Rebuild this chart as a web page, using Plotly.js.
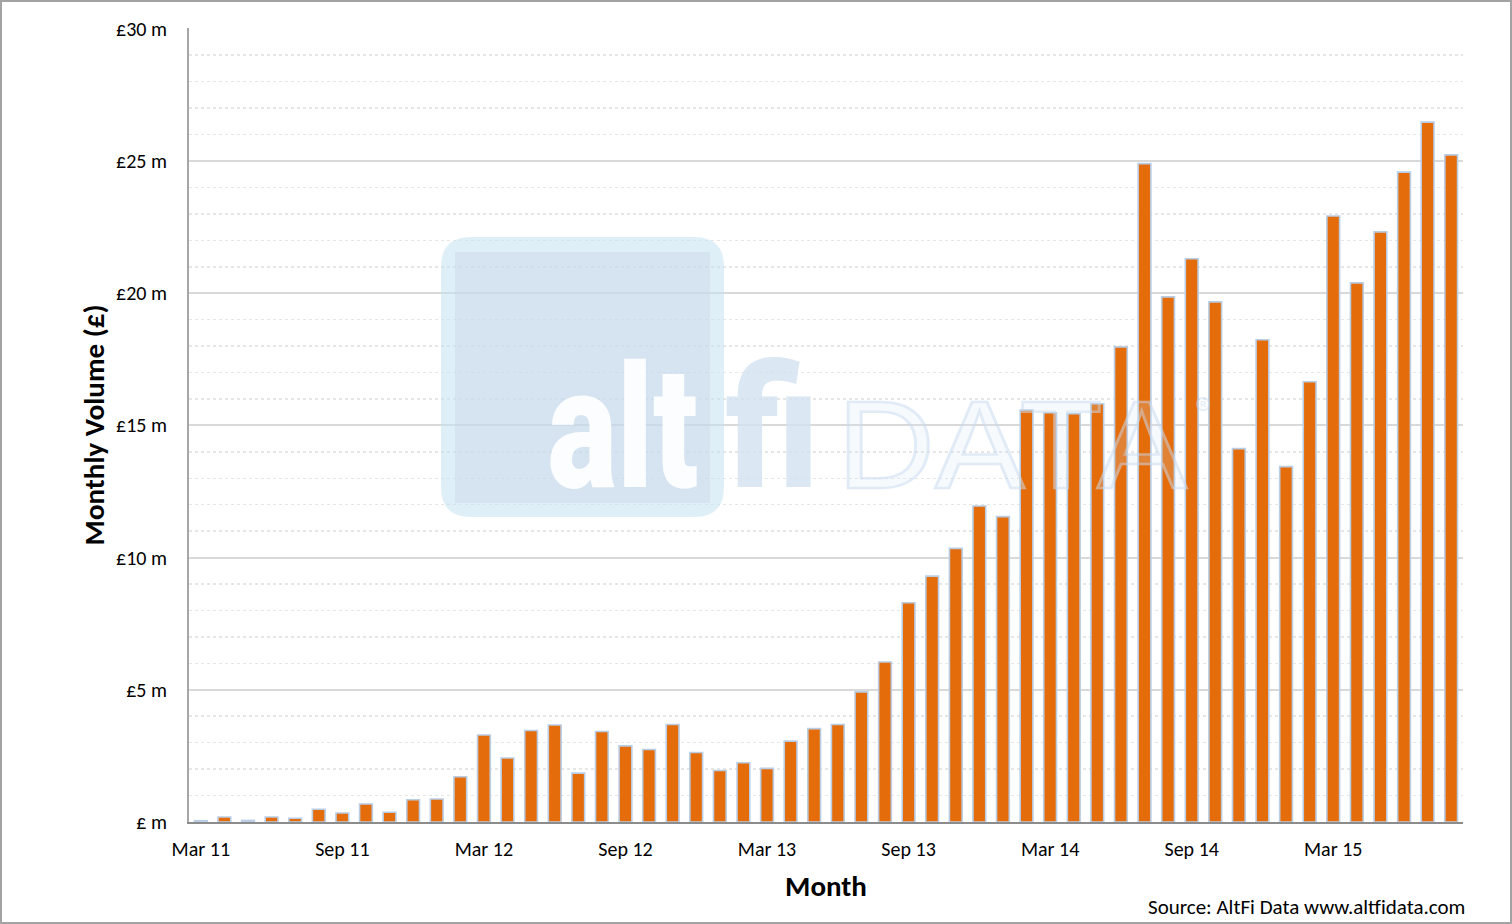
<!DOCTYPE html>
<html>
<head>
<meta charset="utf-8">
<script src="https://cdn.plot.ly/plotly-3.0.1.min.js"></script>
<style>
  html, body { margin: 0; padding: 0; background: #fff; }
  #chart { width: 1512px; height: 924px; box-sizing: border-box; border: 2px solid #a3a3a3; }
</style>
</head>
<body>
<div id="chart"></div>
<script>
// ---- data ----
const months = [
  'Mar 11','Apr 11','May 11','Jun 11','Jul 11','Aug 11','Sep 11','Oct 11','Nov 11','Dec 11',
  'Jan 12','Feb 12','Mar 12','Apr 12','May 12','Jun 12','Jul 12','Aug 12','Sep 12','Oct 12','Nov 12','Dec 12',
  'Jan 13','Feb 13','Mar 13','Apr 13','May 13','Jun 13','Jul 13','Aug 13','Sep 13','Oct 13','Nov 13','Dec 13',
  'Jan 14','Feb 14','Mar 14','Apr 14','May 14','Jun 14','Jul 14','Aug 14','Sep 14','Oct 14','Nov 14','Dec 14',
  'Jan 15','Feb 15','Mar 15','Apr 15','May 15','Jun 15','Jul 15','Aug 15'
];
const volumeMillions = [
  0.05, 0.19, 0.06, 0.19, 0.14, 0.48, 0.34, 0.68, 0.37, 0.84,
  0.87, 1.71, 3.29, 2.42, 3.46, 3.67, 1.85, 3.42, 2.88, 2.74, 3.69, 2.63,
  1.95, 2.24, 2.03, 3.06, 3.53, 3.69, 4.92, 6.05, 8.29, 9.30, 10.35, 11.95,
  11.55, 15.58, 15.48, 15.44, 15.82, 17.97, 24.90, 19.86, 21.30, 19.67, 14.12, 18.24,
  13.44, 16.65, 22.92, 20.39, 22.32, 24.58, 26.47, 25.23
];
const xTickVals = ['Mar 11','Sep 11','Mar 12','Sep 12','Mar 13','Sep 13','Mar 14','Sep 14','Mar 15'];
const yTickVals = [0, 5, 10, 15, 20, 25, 30];
const yTickText = ['£ m','£5 m','£10 m','£15 m','£20 m','£25 m','£30 m'];

// ---- layout helpers (page pixels -> paper coords) ----
const FONT = 'Carlito, Calibri, Lato, "Open Sans", sans-serif';
const LOGO_FONT = 'Roboto, "DejaVu Sans", sans-serif';
const PL = 189, PR = 1463, PT = 28, PB = 822;
const px = x => (x - PL) / (PR - PL);
const py = y => (PB - y) / (PB - PT);

function roundRect(x0, y0, x1, y1, r) {
  const X = px, Y = py;
  return 'M' + X(x0 + r) + ',' + Y(y0) +
    ' L' + X(x1 - r) + ',' + Y(y0) +
    ' Q' + X(x1) + ',' + Y(y0) + ' ' + X(x1) + ',' + Y(y0 + r) +
    ' L' + X(x1) + ',' + Y(y1 - r) +
    ' Q' + X(x1) + ',' + Y(y1) + ' ' + X(x1 - r) + ',' + Y(y1) +
    ' L' + X(x0 + r) + ',' + Y(y1) +
    ' Q' + X(x0) + ',' + Y(y1) + ' ' + X(x0) + ',' + Y(y1 - r) +
    ' L' + X(x0) + ',' + Y(y0 + r) +
    ' Q' + X(x0) + ',' + Y(y0) + ' ' + X(x0 + r) + ',' + Y(y0) + ' Z';
}

const trace = {
  type: 'bar',
  x: months,
  y: volumeMillions,
  marker: { color: '#e46c0a', line: { color: '#b9cde5', width: 1.6 } },
  hoverinfo: 'x+y'
};

const layout = {
  width: 1508, height: 920,
  margin: { l: PL - 2, r: 1508 - (PR - 2), t: PT - 2, b: 920 - (PB - 2) },
  paper_bgcolor: '#ffffff',
  plot_bgcolor: '#ffffff',
  showlegend: false,
  bargap: 0.46,
  font: { family: FONT, color: '#000000', size: 20 },
  xaxis: {
    type: 'category',
    range: [-0.5, months.length - 0.5],
    tickmode: 'array',
    tickvals: xTickVals,
    ticktext: xTickVals,
    ticks: '',
    ticklabelstandoff: 8,
    showgrid: false,
    showline: true, linecolor: '#8c8c8c', linewidth: 2,
    zeroline: false,
    tickfont: { family: FONT, size: 20, color: '#000' },
    title: { text: 'Month', font: { family: FONT, size: 29, weight: 'bold', color: '#000' }, standoff: 16 }
  },
  yaxis: {
    range: [0, 30.03],
    tickmode: 'array',
    tickvals: yTickVals,
    ticktext: yTickText,
    ticks: '',
    ticklabelstandoff: 16,
    showgrid: true, gridcolor: '#d9d9d9', gridwidth: 2,
    minor: { dtick: 1, showgrid: true, gridcolor: '#e6e6e6', griddash: 'dot', gridwidth: 1.5 },
    showline: true, linecolor: '#a6a6a6', linewidth: 2,
    zeroline: false,
    tickfont: { family: FONT, size: 20, color: '#000' },
    title: { text: 'Monthly Volume (£)', font: { family: FONT, size: 29, weight: 'bold', color: '#000' }, standoff: 3 }
  },
  shapes: [
    { type: 'path', xref: 'paper', yref: 'paper', layer: 'above', path: roundRect(441, 237, 724, 517, 30),
      fillcolor: 'rgb(196,226,242)', opacity: 0.55, line: { width: 0 } },
    { type: 'rect', xref: 'paper', yref: 'paper', layer: 'above',
      x0: px(455), x1: px(710), y0: py(503), y1: py(252),
      fillcolor: 'rgb(200,212,232)', opacity: 0.4, line: { width: 0 } }
  ],
  annotations: [
    { text: 'alt', xref: 'paper', yref: 'paper', x: px(622), y: py(429), xanchor: 'center', yanchor: 'middle',
      showarrow: false, opacity: 0.95,
      font: { family: LOGO_FONT, size: 170, weight: 900, color: '#ffffff' } },
    { text: 'fi', xref: 'paper', yref: 'paper', x: px(772), y: py(429), xanchor: 'center', yanchor: 'middle',
      showarrow: false, opacity: 0.8,
      font: { family: LOGO_FONT, size: 170, weight: 900, color: '#d3e2f1' } },
    { text: 'DATA', xref: 'paper', yref: 'paper', x: px(1013), y: py(445), xanchor: 'center', yanchor: 'middle',
      showarrow: false, opacity: 0.55,
      font: { family: 'Inter, "Open Sans", sans-serif', size: 118, weight: 400, color: '#dbe7f5' } },
    { text: '®', xref: 'paper', yref: 'paper', x: px(1203), y: py(407), xanchor: 'center', yanchor: 'middle',
      showarrow: false, opacity: 0.45,
      font: { family: 'Inter, sans-serif', size: 24, color: '#c6d9f0' } },
    { text: 'Source: AltFi Data www.altfidata.com', xref: 'paper', yref: 'paper',
      x: px(1467), y: py(907), xanchor: 'right', yanchor: 'middle', showarrow: false,
      font: { family: FONT, size: 21, color: '#000' } }
  ]
};

// condensed / extended logo lettering (style only)
const logoScale = { 0: 0.77, 1: 0.86, 2: 1.18 };

Plotly.newPlot('chart', [trace], layout, { displayModeBar: false, staticPlot: true }).then(function () {
  Object.keys(logoScale).forEach(function (i) {
    const t = document.querySelector('#chart .annotation[data-index="' + i + '"] text');
    if (!t) return;
    t.style.transformBox = 'fill-box';
    t.style.transformOrigin = 'center';
    t.style.transform = 'scaleX(' + logoScale[i] + ')';
    if (i === '2') {
      t.style.stroke = '#c9dcf1';
      t.style.strokeWidth = '2.5px';
      t.style.fillOpacity = '0.35';
    }
  });
});
</script>
</body>
</html>
